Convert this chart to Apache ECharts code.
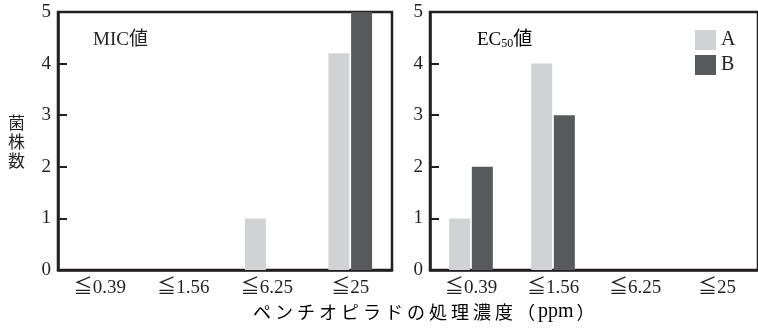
<!DOCTYPE html>
<html><head><meta charset="utf-8">
<script src="https://cdn.jsdelivr.net/npm/echarts@6/dist/echarts.min.js"></script>
<style>html,body{margin:0;padding:0;background:#fff}#c{width:758px;height:333px}</style>
</head><body><div id="c"></div>
<script>
const categories = ['≦0.39', '≦1.56', '≦6.25', '≦25'];
const micA = [0, 0, 1, 4.2];
const micB = [0, 0, 0, 5];
const ecA = [1, 4, 0, 0];
const ecB = [2, 3, 0, 0];
const yTicks = [0, 1, 2, 3, 4, 5];
const xName = ['ペ', 'ン', 'チ', 'オ', 'ピ', 'ラ', 'ド', 'の', '処', '理', '濃', '度', '（', 'ppm', '）'];
const colorA = '#d1d2d4';
const colorB = '#58595b';
const serif = '"Liberation Serif", "DejaVu Serif", "Noto Sans CJK JP", serif';
const ink = '#231f20';

const chart = echarts.init(document.getElementById('c'), null, {renderer: 'canvas'});
function xAx(i) {
  return {type: 'category', gridIndex: i, data: categories,
    axisLine: {show: true, lineStyle: {color: ink, width: 2.5}}, axisTick: {show: false},
    axisLabel: {color: '#231f20', fontFamily: serif, fontSize: 19, margin: 9}};
}
function yAx(i) {
  return {type: 'value', gridIndex: i, min: 0, max: 5, interval: 1,
    splitLine: {show: false},
    axisLine: {show: true, lineStyle: {color: ink, width: 2.5}},
    axisTick: {show: true, inside: true, length: 9, lineStyle: {color: ink, width: 2}},
    axisLabel: {color: '#231f20', fontFamily: serif, fontSize: 19, margin: 7,
      formatter: v => yTicks.includes(v) ? String(v) : ''}};
}
function bar(name, data, color, i) {
  return {name, type: 'bar', xAxisIndex: i, yAxisIndex: i, data, barWidth: 21, barGap: '8%',
    itemStyle: {color}, animation: false, silent: true};
}
const nameRich = xName.map(s => s === 'ppm' ? '{p|' + s + '}' : '{c|' + s + '}').join('');
chart.setOption({
  animation: false,
  grid: [
    {left: 58, right: 366, top: 12, bottom: 63, show: true, borderColor: ink, borderWidth: 2.5, containLabel: false},
    {left: 430, right: -3, top: 12, bottom: 63, show: true, borderColor: ink, borderWidth: 2.5, containLabel: false}
  ],
  xAxis: [xAx(0), xAx(1)],
  yAxis: [yAx(0), yAx(1)],
  legend: {orient: 'vertical', left: 695, top: 30, padding: 0, itemWidth: 21, itemHeight: 20, itemGap: 5,
    icon: 'rect', data: ['A', 'B'], textStyle: {fontFamily: serif, fontSize: 20, color: '#231f20'},
    selectedMode: false},
  series: [bar('A', micA, colorA, 0), bar('B', micB, colorB, 0), bar('A', ecA, colorA, 1), bar('B', ecB, colorB, 1)],
  graphic: [
    {type: 'text', left: 93, top: 31, style: {text: 'MIC値', font: '19px ' + serif, fill: '#231f20'}},
    {type: 'text', left: 477, top: 31, style: {text: '{a|EC}{s|50}{a|値}', rich: {
      a: {fontFamily: serif, fontSize: 19, color: '#231f20'},
      s: {fontFamily: serif, fontSize: 12, color: '#231f20', verticalAlign: 'bottom', padding: [6, 0, 0, 0]}}}},
    {type: 'text', left: 8, top: 113, style: {text: '菌\n株\n数', font: '17px "Noto Sans CJK JP"', fill: '#231f20', lineHeight: 19}},
    {type: 'text', left: 253, top: 302, style: {text: nameRich, rich: {
      c: {fontFamily: '"Noto Sans CJK JP"', fontSize: 18, color: '#231f20', padding: [0, 2, 0, 2]},
      p: {fontFamily: serif, fontSize: 20, color: '#231f20', padding: [0, 1, 0, 1]}}}}
  ]
});
</script></body></html>
